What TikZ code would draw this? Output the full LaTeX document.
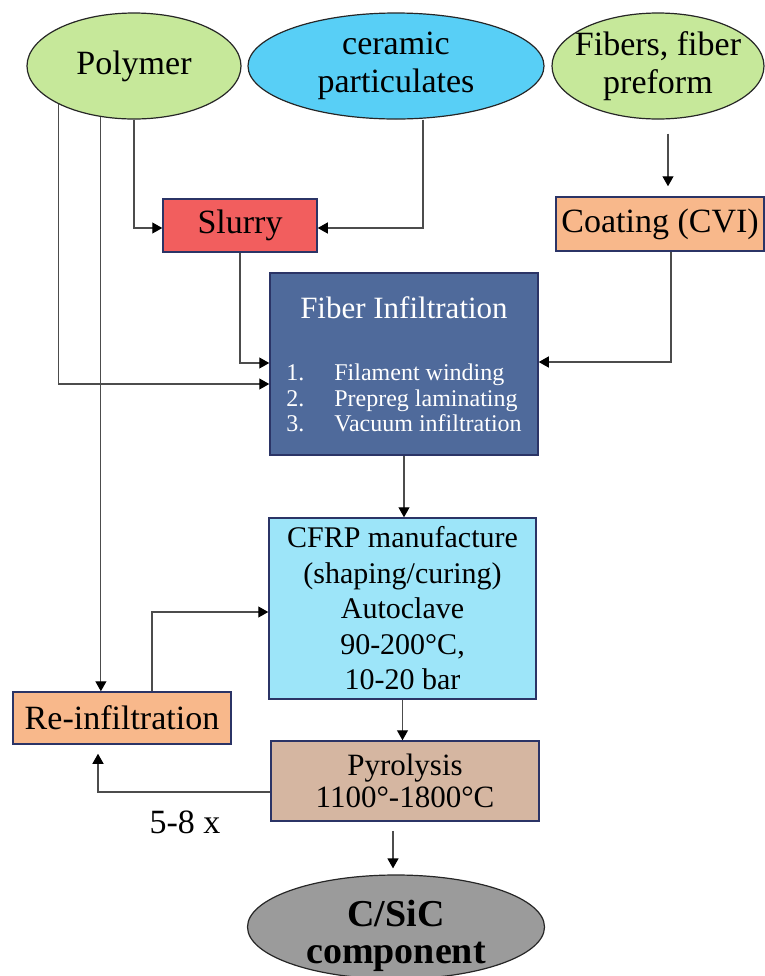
\documentclass[tikz,border=0pt]{standalone}
\usepackage{fontspec}
\setmainfont{Liberation Serif}
\usepackage{tikz}
\usetikzlibrary{arrows.meta,positioning,shapes.geometric,calc}
\definecolor{leaf}{HTML}{C6E89A}
\definecolor{sky}{HTML}{58CFF6}
\definecolor{brick}{HTML}{F25E5E}
\definecolor{peach}{HTML}{F8B88B}
\definecolor{navy}{HTML}{4F6A9B}
\definecolor{ice}{HTML}{9DE5F9}
\definecolor{clay}{HTML}{D5B6A1}
\definecolor{ash}{HTML}{9B9B9B}
\definecolor{rim}{HTML}{2B3466}

\begin{document}
\begin{tikzpicture}[x=0.5pt,y=-0.5pt,
			src/.style={ellipse,draw=black!85,line width=0.6pt,inner sep=0pt,minimum height=53pt,align=center,font=\fontsize{17}{19}\selectfont},
			stage/.style={draw=rim,line width=0.75pt,inner sep=0pt,align=center,font=\fontsize{17}{19}\selectfont},
			link/.style={draw=black!70,line width=0.6pt,-{Triangle[length=5pt,width=5.5pt,color=black]}}
			]
			\useasboundingbox (0,0) rectangle (765,976);
			% sources
			\node[src,fill=leaf,minimum width=107pt] (poly) at (134,66) {Polymer};
			\node[src,fill=sky,minimum width=148pt] (cer) at (396,66) {ceramic\\particulates};
			\node[src,fill=leaf,minimum width=106pt,inner xsep=-10pt] (fib) at (658,66) {Fibers, fiber\\preform};
			% process steps
			\node[stage,fill=brick,minimum width=77pt,minimum height=26.5pt] (slurry) at (240,225.5) {Slurry};
			\node[stage,fill=peach,minimum width=104pt,minimum height=27pt] (coat) at (660,224) {Coating (CVI)};
			\node[stage,fill=navy,text=white,minimum width=134pt,minimum height=91pt] (infil) at (404,364) {{\fontsize{15.5}{18}\selectfont\rule{0pt}{15pt}Fiber Infiltration}\\[12pt]
				{\fontsize{12}{12.75}\selectfont\begin{tabular}[t]{@{}l@{\hspace{15pt}}l@{}}1.&Filament winding\\2.&Prepreg laminating\\3.&Vacuum infiltration\end{tabular}}};
			\node[stage,fill=ice,minimum width=133.5pt,minimum height=90.5pt,font=\fontsize{15}{17.75}\selectfont] (cfrp) at (402.5,608.5) {CFRP manufacture\\(shaping/curing)\\Autoclave\\90-200°C,\\10-20 bar};
			\node[stage,fill=peach,minimum width=109pt,minimum height=26pt] (reinf) at (122,718) {Re-infiltration};
			\node[stage,fill=clay,minimum width=134pt,minimum height=40pt,font=\fontsize{15.5}{16}\selectfont] (pyro) at (405,781) {Pyrolysis\\1100°-1800°C};
			\node[src,fill=ash,minimum width=148.5pt,minimum height=52pt,inner ysep=-8pt,font=\bfseries\fontsize{19}{18.5}\selectfont] (sic) at (396,927) {\rule{0pt}{22pt}C/SiC\\component};
			\node[font=\fontsize{17}{19}\selectfont] (rep) at (185,822) {5-8 x};
			% connectors
			\draw[link] (poly.south) |- ([yshift=-1.25pt]slurry.west);
			\draw[link] ([xshift=13.5pt]cer.south) |- ([yshift=-1.25pt]slurry.east);
			\draw[link,shorten <=7pt,shorten >=5pt] ([xshift=5pt]fib.south) -- ([xshift=5pt]fib.south |- coat.north);
			\draw[link] (slurry.south) |- ([yshift=0.5pt]infil.west);
			\draw[link] (poly.207) |- ([yshift=-10pt]infil.west);
			\draw[link] (poly.237) -- (poly.237 |- reinf.north);
			\draw[link] ([xshift=5.5pt]coat.south) |- ([yshift=1pt]infil.east);
			\draw[link] (infil.south) -- (infil.south |- cfrp.north);
			\draw[link] ([xshift=15pt]reinf.north) |- ([yshift=-1.75pt]cfrp.west);
			\draw[link] (cfrp.south) -- (cfrp.south |- pyro.north);
			\draw[link,shorten >=4.5pt] ([yshift=-5.5pt]pyro.west) -| ([xshift=-12pt]reinf.south);
			\draw[link,shorten <=4.5pt,shorten >=3pt] ([xshift=-6pt]pyro.south) -- ([xshift=-6pt]pyro.south |- sic.north);
		\end{tikzpicture}
\end{document}
